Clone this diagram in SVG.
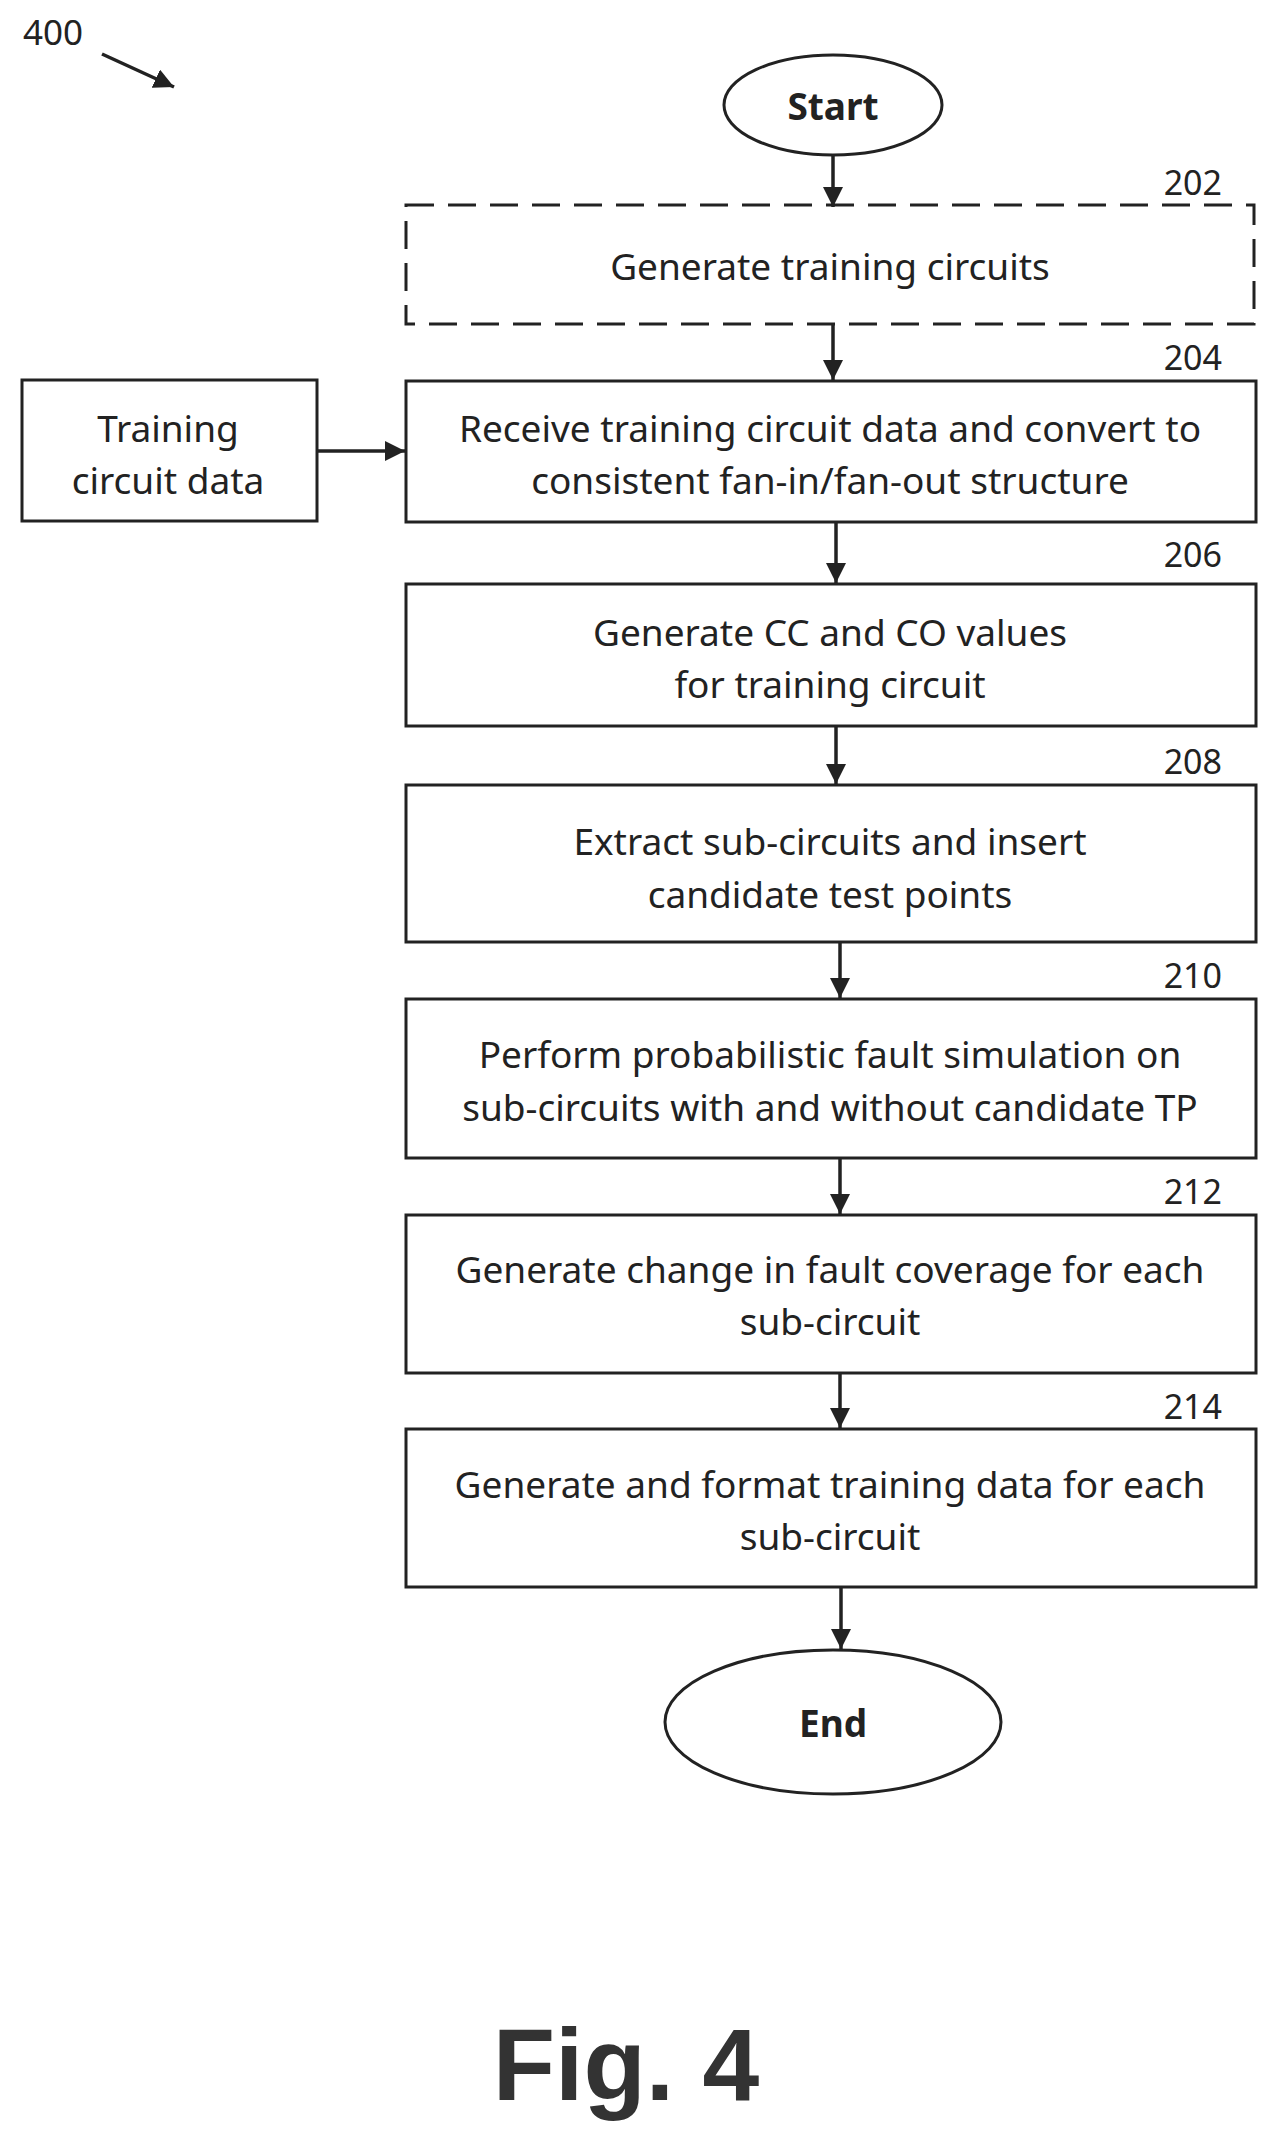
<svg xmlns="http://www.w3.org/2000/svg" width="1277" height="2144" viewBox="0 0 1277 2144">
<defs>
<marker id="ah2" viewBox="0 0 10 10" refX="10" refY="5" markerWidth="20" markerHeight="20" orient="auto" markerUnits="userSpaceOnUse"><path d="M0,0 L10,5 L0,10 z" fill="#222"/></marker>
<style>
.box{fill:#fff;stroke:#222;stroke-width:3}
.t{font-family:"Noto Sans","Open Sans",sans-serif;font-size:37px;fill:#222;text-anchor:middle;dominant-baseline:central}
.n{font-family:"Noto Sans","Open Sans",sans-serif;font-size:34px;fill:#222;text-anchor:end}
.c{stroke:#222;stroke-width:3.5;fill:none;marker-end:url(#ah2)}
</style>
</defs>
<rect width="1277" height="2144" fill="#fff"/>
<g id="label400"><text x="23" y="45" style="font-family:'Noto Sans',sans-serif;font-size:35px;fill:#222">400</text></g>
<g id="start"><ellipse cx="833" cy="105" rx="109" ry="50" class="box" stroke-width="2.5"/><text x="833" y="105" class="t" font-weight="bold">Start</text></g>
<g id="n202"><rect x="406" y="205" width="848" height="119" class="box" stroke-dasharray="28,14"/><text x="830" y="265" class="t">Generate training circuits</text><text x="1222" y="195" class="n">202</text></g>
<g id="n204"><rect x="406" y="381" width="850" height="141" class="box"/><text x="830" y="427" class="t">Receive training circuit data and convert to</text><text x="830" y="479" class="t">consistent fan-in/fan-out structure</text><text x="1222" y="370" class="n">204</text></g>
<g id="data"><rect x="22" y="380" width="295" height="141" class="box"/><text x="168" y="427" class="t">Training</text><text x="168" y="479" class="t">circuit data</text></g>
<g id="n206"><rect x="406" y="584" width="850" height="142" class="box"/><text x="830" y="631" class="t">Generate CC and CO values</text><text x="830" y="683" class="t">for training circuit</text><text x="1222" y="567" class="n">206</text></g>
<g id="n208"><rect x="406" y="785" width="850" height="157" class="box"/><text x="830" y="840" class="t">Extract sub-circuits and insert</text><text x="830" y="893" class="t">candidate test points</text><text x="1222" y="774" class="n">208</text></g>
<g id="n210"><rect x="406" y="999" width="850" height="159" class="box"/><text x="830" y="1053" class="t">Perform probabilistic fault simulation on</text><text x="830" y="1106" class="t">sub-circuits with and without candidate TP</text><text x="1222" y="988" class="n">210</text></g>
<g id="n212"><rect x="406" y="1215" width="850" height="158" class="box"/><text x="830" y="1268" class="t">Generate change in fault coverage for each</text><text x="830" y="1320" class="t">sub-circuit</text><text x="1222" y="1204" class="n">212</text></g>
<g id="n214"><rect x="406" y="1429" width="850" height="158" class="box"/><text x="830" y="1483" class="t">Generate and format training data for each</text><text x="830" y="1535" class="t">sub-circuit</text><text x="1222" y="1419" class="n">214</text></g>
<g id="end"><ellipse cx="833" cy="1722" rx="168" ry="72" class="box" stroke-width="2.5"/><text x="833" y="1722" class="t" font-weight="bold">End</text></g>
<g id="connectors">
<line x1="102" y1="54" x2="174" y2="87" class="c"/>
<line x1="833" y1="155" x2="833" y2="207" class="c"/>
<line x1="833" y1="324" x2="833" y2="380" class="c"/>
<line x1="317" y1="451" x2="405" y2="451" class="c" stroke-width="5"/>
<line x1="836" y1="522" x2="836" y2="583" class="c"/>
<line x1="836" y1="726" x2="836" y2="784" class="c"/>
<line x1="840" y1="942" x2="840" y2="998" class="c"/>
<line x1="840" y1="1158" x2="840" y2="1214" class="c"/>
<line x1="840" y1="1373" x2="840" y2="1428" class="c"/>
<line x1="841" y1="1587" x2="841" y2="1649" class="c"/>
</g>
<g id="caption"><text x="626" y="2100" style="font-family:'Liberation Sans',Arial,sans-serif;font-size:102px;font-weight:bold;fill:#333;text-anchor:middle">Fig. 4</text></g>
</svg>
